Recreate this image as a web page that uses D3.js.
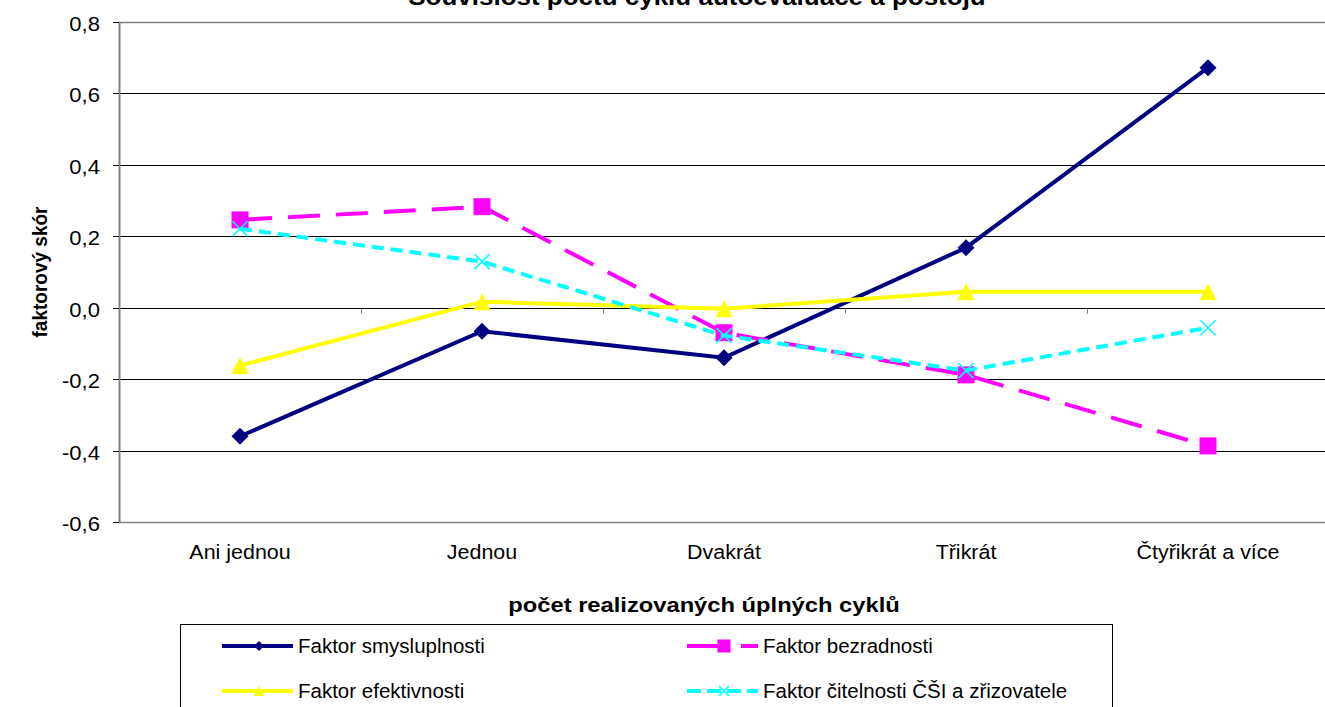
<!DOCTYPE html>
<html lang="cs">
<head>
    <meta charset="UTF-8">
    <title>Souvislost počtu cyklů autoevaluace a postoju</title>
    <style>
        body {
            margin: 0;
            background-color: #fff;
            font-family: "Liberation Sans", Arial, sans-serif;
        }

        .series-line {
            fill: none;
            stroke-width: 4px;
        }
    </style>
</head>
<body>
    <svg id="chart" width="1325" height="707"></svg>

    <script src="https://cdn.jsdelivr.net/npm/d3@7"></script>
    <script>
        // data
        const categories = ["Ani jednou", "Jednou", "Dvakrát", "Třikrát", "Čtyřikrát a více"];
        const smysluplnosti = [-0.36, -0.066, -0.14, 0.168, 0.672];
        const bezradnosti = [0.246, 0.283, -0.07, -0.188, -0.387];
        const efektivnosti = [-0.162, 0.017, -0.003, 0.045, 0.045];
        const citelnosti = [0.221, 0.129, -0.078, -0.176, -0.056];
        const yTicks = [-0.6, -0.4, -0.2, 0.0, 0.2, 0.4, 0.6, 0.8];

        const series = [
            { name: "Faktor smysluplnosti", values: smysluplnosti, color: "#000080", dash: null, legendDash: null, marker: "diamond" },
            { name: "Faktor bezradnosti", values: bezradnosti, color: "#ff00ff", dash: "32,16", legendDash: "43,11", marker: "square" },
            { name: "Faktor efektivnosti", values: efektivnosti, color: "#ffff00", dash: null, legendDash: null, marker: "triangle" },
            { name: "Faktor čitelnosti ČŠI a zřizovatele", values: citelnosti, color: "#00ffff", dash: "12,7", legendDash: "14,6", marker: "x" }
        ];

        const svg = d3.select("#chart");
        const plot = { left: 119, right: 1329, top: 22, bottom: 522 };
        const stretch = 1.13; // the source picture is a bit wider than tall

        const x = d3.scaleBand()
            .domain(categories)
            .range([plot.left, plot.right]);

        const y = d3.scaleLinear()
            .domain([-0.6, 0.8])
            .range([plot.bottom, plot.top]);

        const fmt = v => d3.format(".1f")(v).replace(".", ",").replace("−", "-");
        const cx = c => x(c) + x.bandwidth() / 2;

        function label(px, py, txt, size, anchor, bold, sx) {
            return svg.append("text")
                .attr("transform", `translate(${px},${py}) scale(${sx},1)`)
                .attr("text-anchor", anchor)
                .style("font-size", size + "px")
                .style("font-weight", bold ? "bold" : "normal")
                .text(txt);
        }

        // title (cut off at the top like in the source)
        label(697, 4.5, "Souvislost počtu cyklů autoevaluace a postoju", 23, "middle", true, stretch);

        // horizontal grid lines
        svg.append("g")
            .selectAll("line")
            .data(yTicks)
            .enter()
            .append("line")
            .attr("x1", plot.left)
            .attr("x2", 1325)
            .attr("y1", d => Math.round(y(d)) + 0.5)
            .attr("y2", d => Math.round(y(d)) + 0.5)
            .attr("stroke", d => (d === 0.8 || d === -0.6) ? "#808080" : "#000")
            .attr("stroke-width", d => (d === 0.8 || d === -0.6) ? 1.5 : 1);

        // y axis
        svg.append("line")
            .attr("x1", plot.left + 0.5).attr("x2", plot.left + 0.5)
            .attr("y1", plot.top).attr("y2", plot.bottom + 1)
            .attr("stroke", "#808080")
            .attr("stroke-width", 2);

        svg.append("g")
            .selectAll("line")
            .data(yTicks)
            .enter()
            .append("line")
            .attr("x1", plot.left - 6).attr("x2", plot.left)
            .attr("y1", d => Math.round(y(d)) + 0.5)
            .attr("y2", d => Math.round(y(d)) + 0.5)
            .attr("stroke", "#000");

        yTicks.forEach(t => label(100, y(t) + 9, fmt(t), 19.5, "end", false, stretch));

        // category ticks sit on the zero line, labels at the bottom
        const y0 = Math.round(y(0)) + 0.5;
        svg.append("g")
            .selectAll("line")
            .data(categories.slice(1))
            .enter()
            .append("line")
            .attr("x1", d => Math.round(x(d)) + 0.5)
            .attr("x2", d => Math.round(x(d)) + 0.5)
            .attr("y1", y0)
            .attr("y2", y0 + 5)
            .attr("stroke", "#808080");

        categories.forEach(c => label(cx(c), 559, c, 19.5, "middle", false, 1.1));

        // axis titles
        label(704, 612, "počet realizovaných úplných cyklů", 21, "middle", true, stretch);

        svg.append("text")
            .attr("transform", "translate(47,272) rotate(-90) scale(1,1.1)")
            .attr("text-anchor", "middle")
            .style("font-weight", "bold")
            .style("font-size", "19px")
            .text("faktorový skór");

        // markers
        function drawMarker(g, type, color, size) {
            if (type === "diamond") {
                const r = size / 2;
                g.append("path")
                    .attr("d", `M0,${-r}L${r},0L0,${r}L${-r},0Z`)
                    .attr("fill", color);
            } else if (type === "square") {
                g.append("rect")
                    .attr("x", -size / 2).attr("y", -size / 2)
                    .attr("width", size).attr("height", size)
                    .attr("fill", color);
            } else if (type === "triangle") {
                const r = size / 2;
                g.append("path")
                    .attr("d", `M0,${-r}L${r},${r}L${-r},${r}Z`)
                    .attr("fill", color);
            } else if (type === "x") {
                const r = size / 2;
                g.append("path")
                    .attr("d", `M${-r},${-r}L${r},${r}M${-r},${r}L${r},${-r}`)
                    .attr("stroke", color)
                    .attr("stroke-width", 1.6)
                    .attr("fill", "none");
            }
        }

        const line = d3.line()
            .x((d, i) => cx(categories[i]))
            .y(d => y(d));

        series.forEach(s => {
            svg.append("path")
                .attr("class", "series-line")
                .attr("d", line(s.values))
                .attr("stroke", s.color)
                .attr("stroke-dasharray", s.dash);

            s.values.forEach((v, i) => {
                const g = svg.append("g")
                    .attr("transform", `translate(${cx(categories[i])},${y(v)})`);
                drawMarker(g, s.marker, s.color, s.marker === "x" ? 15 : 17);
            });
        });

        // legend
        svg.append("rect")
            .attr("x", 180.5)
            .attr("y", 624.5)
            .attr("width", 932)
            .attr("height", 100)
            .attr("fill", "none")
            .attr("stroke", "#000")
            .attr("stroke-width", 1);

        const legendPos = [
            { x: 222, y: 646 },
            { x: 687, y: 646 },
            { x: 222, y: 691 },
            { x: 687, y: 691 }
        ];

        series.forEach((s, i) => {
            const p = legendPos[i];
            const g = svg.append("g").attr("transform", `translate(${p.x},${p.y})`);
            g.append("line")
                .attr("x1", 0).attr("x2", 71)
                .attr("y1", 0).attr("y2", 0)
                .attr("stroke", s.color)
                .attr("stroke-width", 4)
                .attr("stroke-dasharray", s.legendDash);
            const m = g.append("g").attr("transform", "translate(37,0)");
            drawMarker(m, s.marker, s.color, s.marker === "square" ? 13 : 10);
            g.append("text")
                .attr("x", 76)
                .attr("y", 7)
                .style("font-size", "20.5px")
                .text(s.name);
        });
    </script>
</body>
</html>
